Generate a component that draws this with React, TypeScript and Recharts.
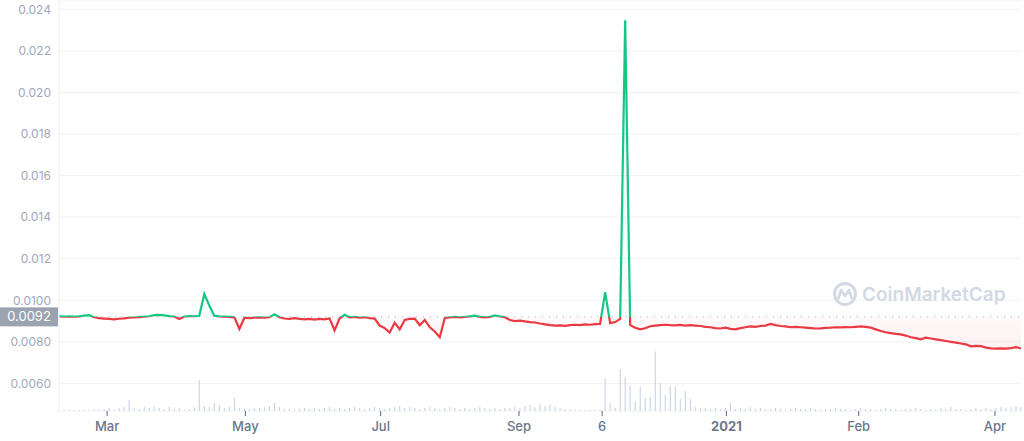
import React from 'react';
import {
  ComposedChart,
  Area,
  Bar,
  XAxis,
  YAxis,
  CartesianGrid,
  ReferenceLine,
} from 'recharts';

// price samples, evenly spaced from late Feb 2020 to mid Apr 2021 (USD)
const prices = [
  0.00922, 0.00921, 0.00922, 0.00921, 0.00922, 0.00926, 0.00928, 0.00918, 0.00914, 0.00912,
  0.0091, 0.00908, 0.00911, 0.00913, 0.00916, 0.00917, 0.00919, 0.00921, 0.00923, 0.00928,
  0.0093, 0.00927, 0.00924, 0.00922, 0.0091, 0.00922, 0.00924, 0.00923, 0.00925, 0.0103,
  0.00975, 0.00925, 0.00922, 0.00921, 0.0092, 0.00918, 0.00862, 0.00916, 0.00914, 0.00916,
  0.00918, 0.00916, 0.00918, 0.00932, 0.00918, 0.00912, 0.0091, 0.00914, 0.0091, 0.00908,
  0.0091, 0.00907, 0.0091, 0.00908, 0.00912, 0.00855, 0.00912, 0.0093, 0.00918, 0.0092,
  0.00916, 0.00918, 0.00914, 0.00912, 0.00878, 0.00866, 0.00845, 0.00892, 0.0086, 0.00905,
  0.0091, 0.00912, 0.0088, 0.00905, 0.0087, 0.0085, 0.00822, 0.00915, 0.00918, 0.0092,
  0.00918, 0.0092, 0.00922, 0.00926, 0.0092, 0.00918, 0.0092, 0.00927, 0.00922, 0.00918,
  0.00905, 0.009, 0.00902, 0.00898, 0.00895, 0.00893, 0.00888, 0.00884, 0.0088, 0.00878,
  0.00879, 0.00877, 0.0088, 0.00882, 0.0088, 0.00884, 0.00882, 0.00885, 0.00886, 0.01039,
  0.0089, 0.00895, 0.0091, 0.02348, 0.0088, 0.00868, 0.0086, 0.00865, 0.00875, 0.00878,
  0.0088, 0.00882, 0.0088, 0.00879, 0.00881, 0.00878, 0.0088, 0.00878, 0.00876, 0.00872,
  0.0087, 0.00866, 0.00864, 0.00868, 0.00862, 0.0086, 0.00866, 0.0087, 0.00874, 0.00872,
  0.00876, 0.00878, 0.00886, 0.0088, 0.00876, 0.00874, 0.0087, 0.00872, 0.0087, 0.00868,
  0.00866, 0.00864, 0.00865, 0.00867, 0.00868, 0.0087, 0.00869, 0.00871, 0.0087, 0.00872,
  0.00874, 0.00872, 0.00868, 0.0086, 0.00852, 0.00846, 0.00842, 0.00838, 0.00836, 0.0083,
  0.00822, 0.00818, 0.00812, 0.0082, 0.00816, 0.00812, 0.00808, 0.00804, 0.008, 0.00796,
  0.00792, 0.00788, 0.00778, 0.0078, 0.00779, 0.00772, 0.00768, 0.00767, 0.00768, 0.00767,
  0.0077, 0.00774, 0.00768,
];

// traded volume for the same samples, thousand USD
const volumes = [
  3, 2, 3, 2, 3, 3, 2, 5, 3, 6, 8, 5, 9, 12,
  33,
  9, 6, 12, 9, 14, 9, 6, 12, 6, 9, 3, 6, 12,
  93,
  15, 12, 24, 18, 9, 12,
  39,
  9, 6, 6, 9, 9, 12, 15,
  24,
  12, 6, 6, 3, 6, 9,
  6, 9, 6, 9, 12, 6, 9, 6, 9, 12, 9, 6, 9, 12, 9, 6, 9, 12, 15, 9,
  12, 9, 6, 9, 12, 9, 6, 9, 12, 9, 6, 9, 6, 9, 12, 9, 6, 9, 6, 9,
  9, 12, 9, 15, 18, 12, 21, 15, 18, 12, 9,
  6, 6, 3, 3, 3, 3, 3, 3,
  99, 24, 9, 126, 102, 75, 27, 72, 39, 42, 178, 84, 48, 75, 72, 36, 60, 36,
  12, 9, 9, 6, 9, 6,
  9, 24,
  6, 9, 6, 12, 6, 9, 6, 6, 9, 6, 3, 6, 9, 6, 6, 9, 6, 3, 6, 6,
  9, 6, 6, 3, 6, 9, 6, 6, 3, 6, 9, 6, 6, 3, 6, 6, 9, 6, 3, 6,
  6, 9, 6, 12, 6, 6, 3, 6, 9, 6, 9, 6, 9, 12, 9, 12, 15, 12,
];

const tickPositions = [9.6, 37.2, 64.2, 91.8, 108.4, 133.2, 159.6, 186.8];
const tickLabels = ['Mar', 'May', 'Jul', 'Sep', '6', '2021', 'Feb', 'Apr'];
const priceTicks = [0.006, 0.008, 0.01, 0.012, 0.014, 0.016, 0.018, 0.02, 0.022, 0.024];
const BASELINE = 0.0092;

const GREEN = '#16c784';
const RED = '#ea3943';

const data = prices.map((price, i) => ({ t: i, price, volume: volumes[i] }));

const maxP = Math.max(...prices);
const minP = Math.min(...prices);
const splitOffset = (maxP - BASELINE) / (maxP - minP);
const volTop = Math.max(...volumes) * 6.9;

const formatPrice = (v: number) => (v > 0.0105 ? v.toFixed(3) : v.toFixed(4));

const XTick = ({ x, y, payload }: any) => {
  const idx = tickPositions.indexOf(payload.value);
  const label = tickLabels[idx] ?? '';
  return (
    <text
      x={x}
      y={y}
      dy="0.71em"
      textAnchor="middle"
      fill="#6a768c"
      fontSize={13}
      fontWeight={label === '2021' ? 700 : 500}
    >
      {label}
    </text>
  );
};

const renderBaseLabel = (props: any) => {
  const vb = props.viewBox || {};
  const y = vb.y ?? 0;
  return (
    <g>
      <rect x={0} y={y - 9.5} width={58} height={19} fill="#9ba2b0" />
      <text x={29} y={y + 4.5} textAnchor="middle" fill="#ffffff" fontSize={13}>
        {BASELINE.toFixed(4)}
      </text>
    </g>
  );
};

export default function App() {
  return (
    <div
      style={{
        position: 'absolute',
        left: 0,
        top: 0,
        width: 1024,
        height: 441,
        background: '#fff',
        fontFamily: 'Inter, "Noto Sans", sans-serif',
      }}
    >
      <ComposedChart
        width={1024}
        height={441}
        data={data}
        margin={{ top: 0, right: 3, bottom: 0, left: 0 }}
      >
        <defs>
          <linearGradient id="splitStroke" x1="0" y1="0" x2="0" y2="1">
            <stop offset={0} stopColor={GREEN} />
            <stop offset={splitOffset} stopColor={GREEN} />
            <stop offset={splitOffset} stopColor={RED} />
            <stop offset={1} stopColor={RED} />
          </linearGradient>
          <linearGradient id="splitFill" x1="0" y1="0" x2="0" y2="1">
            <stop offset={0} stopColor={GREEN} stopOpacity={0.15} />
            <stop offset={splitOffset} stopColor={GREEN} stopOpacity={0.04} />
            <stop offset={splitOffset} stopColor={RED} stopOpacity={0.05} />
            <stop offset={1} stopColor={RED} stopOpacity={0.12} />
          </linearGradient>
        </defs>
        <CartesianGrid yAxisId="price" vertical={false} stroke="#eff2f5" />
        <XAxis
          dataKey="t"
          type="number"
          domain={[0, prices.length - 1]}
          ticks={tickPositions}
          interval={0}
          height={30}
          axisLine={false}
          tickSize={5}
          tickMargin={6}
          tickLine={{ stroke: '#58667e' }}
          tick={<XTick />}
        />
        <YAxis
          yAxisId="price"
          type="number"
          domain={[0.00467, 0.02445]}
          allowDataOverflow
          ticks={priceTicks}
          interval={0}
          width={59}
          tickSize={6}
          tickMargin={2}
          tickLine={false}
          axisLine={{ stroke: '#eff2f5' }}
          tick={{ fill: '#a1a7bb', fontSize: 12 }}
          tickFormatter={formatPrice}
        />
        <YAxis yAxisId="vol" hide domain={[0, volTop]} />
        <Bar
          yAxisId="vol"
          dataKey="volume"
          barSize={1}
          fill="#c5cde0"
          isAnimationActive={false}
        />
        <ReferenceLine
          yAxisId="price"
          y={BASELINE}
          stroke="#a6afbd"
          strokeDasharray="1 6"
          label={renderBaseLabel}
        />
        <Area
          yAxisId="price"
          type="linear"
          dataKey="price"
          baseValue={BASELINE}
          stroke="url(#splitStroke)"
          strokeWidth={2.2}
          fill="url(#splitFill)"
          dot={false}
          activeDot={false}
          isAnimationActive={false}
        />
      </ComposedChart>
      <svg
        width={190}
        height={30}
        style={{ position: 'absolute', left: 830, top: 280 }}
      >
        <circle cx={15} cy={14} r={10.5} fill="none" stroke="#d3d9e4" strokeWidth={2.8} />
        <path
          d="M8.5 18 L11 10 L15 16 L19 10 L21.5 18"
          fill="none"
          stroke="#d3d9e4"
          strokeWidth={2.6}
          strokeLinejoin="round"
          strokeLinecap="round"
        />
        <text x={32} y={21} fill="#d3d9e4" fontSize={19} fontWeight={600}>
          CoinMarketCap
        </text>
      </svg>
    </div>
  );
}
